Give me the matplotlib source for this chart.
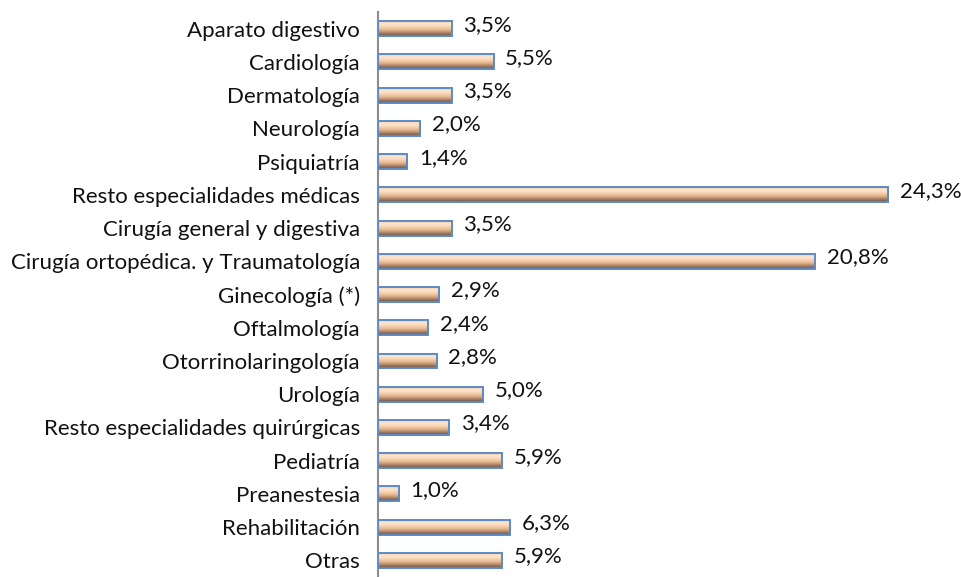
import numpy as np
import matplotlib.pyplot as plt
from matplotlib.colors import LinearSegmentedColormap

categories = ['Aparato digestivo', 'Cardiología', 'Dermatología', 'Neurología',
              'Psiquiatría', 'Resto especialidades médicas', 'Cirugía general y digestiva',
              'Cirugía ortopédica. y Traumatología', 'Ginecología (*)', 'Oftalmología',
              'Otorrinolaringología', 'Urología', 'Resto especialidades quirúrgicas',
              'Pediatría', 'Preanestesia', 'Rehabilitación', 'Otras']
values = [3.5, 5.5, 3.5, 2.0, 1.4, 24.3, 3.5, 20.8, 2.9, 2.4, 2.8, 5.0, 3.4, 5.9, 1.0, 6.3, 5.9]

plt.rcParams['font.family'] = ['Lato', 'DejaVu Sans']

fig = plt.figure(figsize=(9.62, 5.77), dpi=100)
ax = fig.add_axes([0.393, 0.0, 0.607, 0.979])

y = np.arange(len(categories))
bars = ax.barh(y, values, height=0.45, facecolor='none', edgecolor='#5b8bc6',
               linewidth=1.4, zorder=3)

# vertical gradient fill inside each bar (light peach top, brown bottom)
cmap = LinearSegmentedColormap.from_list('peach', ['#f6cfa8', '#fde6d2', '#f7d3b0',
                                                  '#e3b48c', '#a98066', '#6a5244'])
grad = np.linspace(0, 1, 64).reshape(-1, 1)
for b in bars:
    x0, y0 = b.get_x(), b.get_y()
    w, h = b.get_width(), b.get_height()
    im = ax.imshow(grad, cmap=cmap, aspect='auto', origin='upper',
                   extent=(x0, x0 + w, y0 + h, y0), zorder=2, interpolation='bilinear')
    im.set_clip_path(b)

for yi, v in zip(y, values):
    ax.text(v + 0.55, yi - 0.12, f'{v:.1f}%'.replace('.', ','), va='center', ha='left',
            fontsize=16, color='#111111')

ax.set_xlim(0, 27.8)
ax.set_ylim(len(categories) - 0.5, -0.5)
ax.set_yticks(y)
ax.set_yticklabels(categories, fontsize=16, color='#111111')
ax.tick_params(axis='y', length=0, pad=13)
ax.set_xticks([])
for s in ['top', 'right', 'bottom']:
    ax.spines[s].set_visible(False)
ax.spines['left'].set_color('#8c8c8c')
ax.spines['left'].set_linewidth(1.5)

fig.savefig('out.png', dpi=100)
